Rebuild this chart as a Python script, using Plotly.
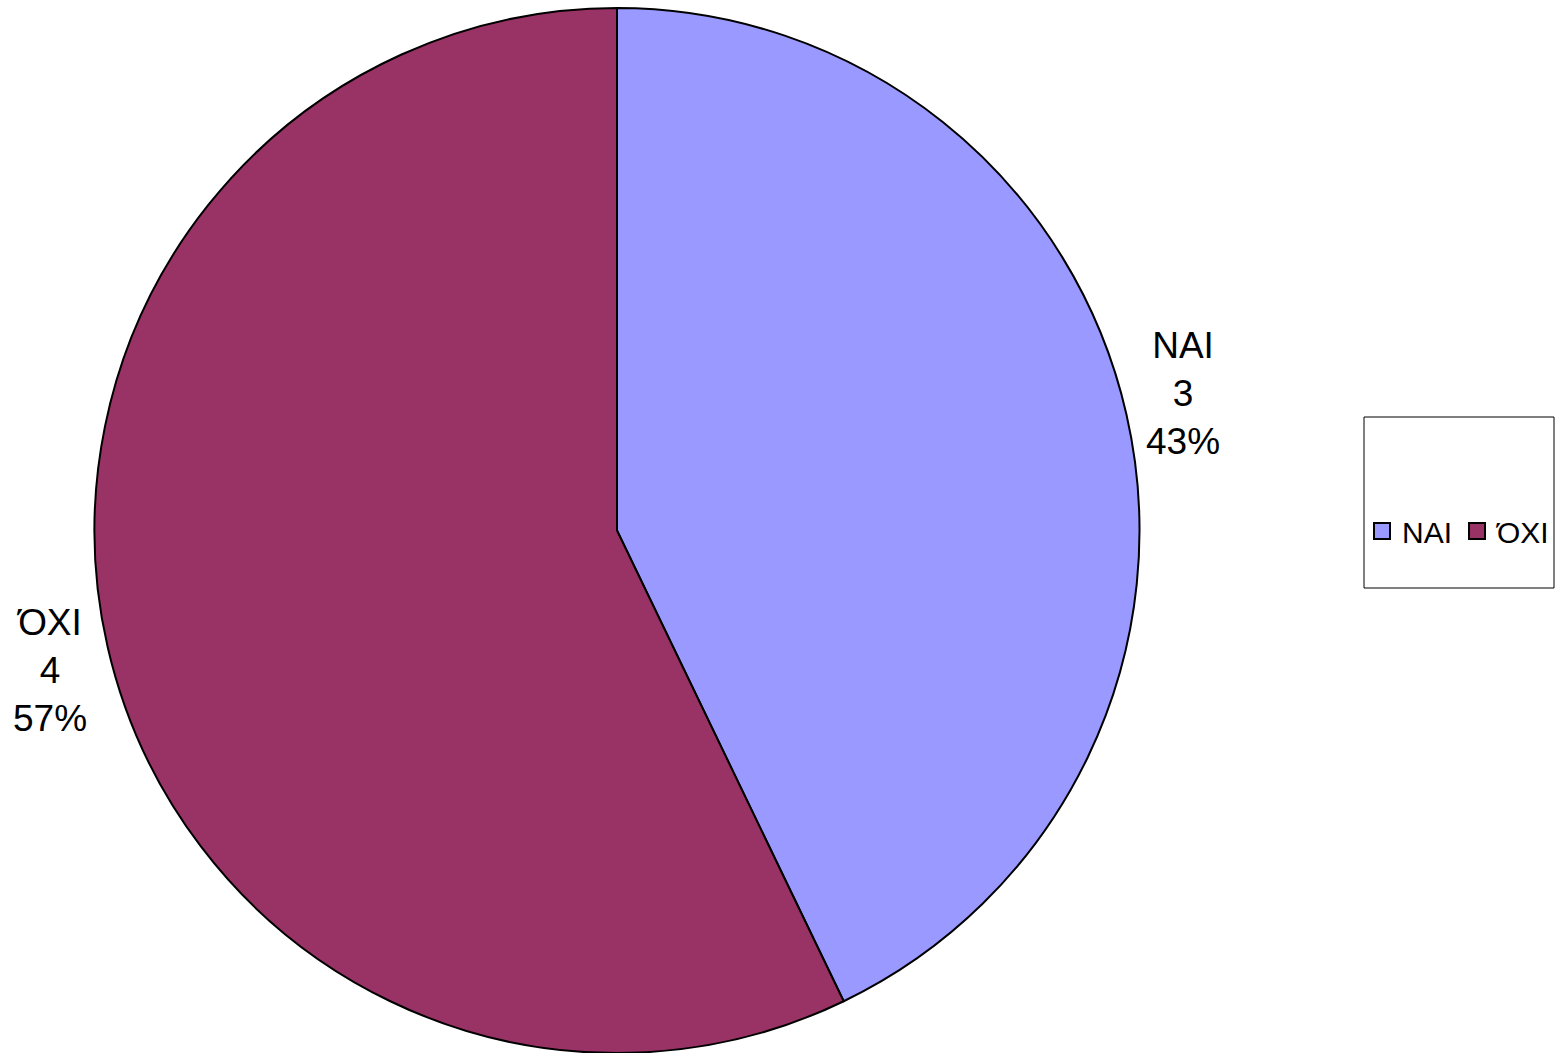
import plotly.graph_objects as go

labels = ["NAI", "ΌΧΙ"]
values = [3, 4]
colors = ["#9999FF", "#993366"]

total = sum(values)
pct = [round(v / total * 100) for v in values]

W, H = 1555, 1053
FONT = "Liberation Sans, Arial"
fig = go.Figure()
fig.add_trace(go.Pie(
    labels=labels, values=values, sort=False, direction="clockwise", rotation=0,
    marker=dict(colors=colors, line=dict(color="black", width=2)),
    textinfo="none", hoverinfo="label+value+percent", showlegend=False,
    domain=dict(x=[94 / W, 1140 / W], y=[0, 1 - 8 / H]),
))

# legend entries (square swatches)
for lab, col in zip(labels, colors):
    fig.add_trace(go.Scatter(x=[None], y=[None], mode="markers", name=lab,
                             marker=dict(symbol="square", size=16, color=col,
                                         line=dict(color="black", width=2)),
                             hoverinfo="skip"))

label_pos = [(1183, 394), (50, 670)]
for (lx, ly), lab, v, p in zip(label_pos, labels, values, pct):
    fig.add_annotation(x=lx / W, y=1 - ly / H, xref="paper", yref="paper",
                       text=f"{lab}<br>{v}<br>{p}%", showarrow=False,
                       font=dict(family=FONT, size=37, color="black"),
                       align="center", xanchor="center", yanchor="middle")

fig.add_shape(type="rect", xref="paper", yref="paper",
              x0=1364 / W, x1=1554 / W, y0=1 - 588 / H, y1=1 - 417 / H,
              line=dict(color="black", width=1), fillcolor="rgba(0,0,0,0)")

fig.update_layout(
    width=W, height=H, margin=dict(l=0, r=0, t=0, b=0, autoexpand=False),
    paper_bgcolor="white", plot_bgcolor="rgba(0,0,0,0)",
    showlegend=True,
    xaxis=dict(visible=False), yaxis=dict(visible=False),
    legend=dict(orientation="h", x=1459 / W, y=1 - 531 / H, xanchor="center", yanchor="middle",
                font=dict(family=FONT, size=30, color="black"),
                bgcolor="rgba(0,0,0,0)", borderwidth=0, itemwidth=30, tracegroupgap=0,
                itemclick=False, itemdoubleclick=False),
)
fig.write_html("out.html")
